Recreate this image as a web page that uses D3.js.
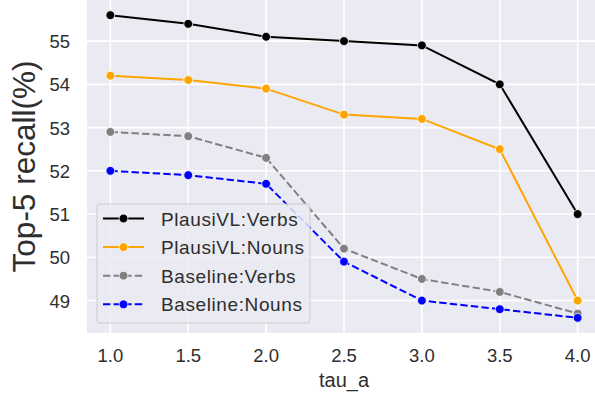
<!DOCTYPE html>
<html>
<head>
<meta charset="utf-8">
<script src="https://cdn.jsdelivr.net/npm/d3@7"></script>
<style>
  body { margin: 0; background: #fff; }
  svg { display: block; font-family: "Liberation Sans", Arial, sans-serif; }
</style>
</head>
<body>
<div id="chart"></div>
<script>
const tauValues = [1.0, 1.5, 2.0, 2.5, 3.0, 3.5, 4.0];
const plausiVerbs = [55.6, 55.4, 55.1, 55.0, 54.9, 54.0, 51.0];
const plausiNouns = [54.2, 54.1, 53.9, 53.3, 53.2, 52.5, 49.0];
const baseVerbs = [52.9, 52.8, 52.3, 50.2, 49.5, 49.2, 48.7];
const baseNouns = [52.0, 51.9, 51.7, 49.9, 49.0, 48.8, 48.6];
const yTicks = [49, 50, 51, 52, 53, 54, 55];
const xTicks = [1.0, 1.5, 2.0, 2.5, 3.0, 3.5, 4.0];

const seriesList = [
  { name: "PlausiVL:Verbs", values: plausiVerbs, color: "#000000", dash: null },
  { name: "PlausiVL:Nouns", values: plausiNouns, color: "#ffa500", dash: null },
  { name: "Baseline:Verbs", values: baseVerbs, color: "#808080", dash: "7.4,3.2" },
  { name: "Baseline:Nouns", values: baseNouns, color: "#0000ff", dash: "7.4,3.2" }
];

const width = 595, height = 395;
const plot = { left: 87, right: 601, top: 0, bottom: 333 };

const svg = d3.select("#chart").append("svg")
  .attr("width", width)
  .attr("height", height);

const x = d3.scaleLinear().domain([0.85, 4.15]).range([plot.left, plot.right]);
const y = d3.scaleLinear().domain([48.25, 55.95]).range([plot.bottom, plot.top]);

svg.append("rect")
  .attr("x", plot.left).attr("y", plot.top)
  .attr("width", plot.right - plot.left).attr("height", plot.bottom - plot.top)
  .attr("fill", "#eaeaf2");

// gridlines
svg.append("g").selectAll("line").data(xTicks).enter().append("line")
  .attr("x1", d => x(d)).attr("x2", d => x(d))
  .attr("y1", plot.top).attr("y2", plot.bottom)
  .attr("stroke", "#fff").attr("stroke-width", 1.6);
svg.append("g").selectAll("line").data(yTicks).enter().append("line")
  .attr("x1", plot.left).attr("x2", plot.right)
  .attr("y1", d => y(d)).attr("y2", d => y(d))
  .attr("stroke", "#fff").attr("stroke-width", 1.6);

// tick labels
svg.append("g").selectAll("text").data(yTicks).enter().append("text")
  .attr("x", 70).attr("y", d => y(d) + 7)
  .attr("text-anchor", "end")
  .attr("font-size", 18.5).attr("fill", "#2e2e2e")
  .text(d => d);
svg.append("g").selectAll("text").data(xTicks).enter().append("text")
  .attr("x", d => x(d)).attr("y", 362)
  .attr("text-anchor", "middle")
  .attr("font-size", 18.5).attr("fill", "#2e2e2e")
  .text(d => d3.format(".1f")(d));

svg.append("text")
  .attr("x", x(2.5)).attr("y", 387)
  .attr("text-anchor", "middle")
  .attr("font-size", 20).attr("fill", "#2e2e2e")
  .text("tau_a");

svg.append("text")
  .attr("transform", `translate(35,${(plot.top + plot.bottom) / 2}) rotate(-90)`)
  .attr("text-anchor", "middle")
  .attr("font-size", 31.5).attr("fill", "#2e2e2e")
  .text("Top-5 recall(%)");

// lines
const line = d3.line().x((d, i) => x(tauValues[i])).y(d => y(d));

seriesList.forEach(s => {
  const g = svg.append("g");
  g.append("path")
    .datum(s.values)
    .attr("d", line)
    .attr("fill", "none")
    .attr("stroke", s.color)
    .attr("stroke-width", 2)
    .attr("stroke-dasharray", s.dash);
  g.selectAll("circle").data(s.values).enter().append("circle")
    .attr("cx", (d, i) => x(tauValues[i]))
    .attr("cy", d => y(d))
    .attr("r", 4.4)
    .attr("fill", s.color)
    .attr("stroke", "#fff").attr("stroke-width", 0.75);
});

// legend
const legend = svg.append("g");
legend.append("rect")
  .attr("x", 97).attr("y", 204).attr("width", 213).attr("height", 119)
  .attr("rx", 3)
  .attr("fill", "#eaeaf2").attr("fill-opacity", 0.85)
  .attr("stroke", "#cccccc").attr("stroke-width", 1);

seriesList.forEach((s, i) => {
  const cy = 218.5 + i * 28.6;
  legend.append("line")
    .attr("x1", 103).attr("x2", 144).attr("y1", cy).attr("y2", cy)
    .attr("stroke", s.color).attr("stroke-width", 2)
    .attr("stroke-dasharray", s.dash);
  legend.append("circle")
    .attr("cx", 123.5).attr("cy", cy).attr("r", 4.4)
    .attr("fill", s.color)
    .attr("stroke", "#fff").attr("stroke-width", 0.75);
  legend.append("text")
    .attr("x", 161).attr("y", cy + 7)
    .attr("font-size", 19).attr("letter-spacing", 0.6)
    .attr("fill", "#2e2e2e")
    .text(s.name);
});
</script>
</body>
</html>
